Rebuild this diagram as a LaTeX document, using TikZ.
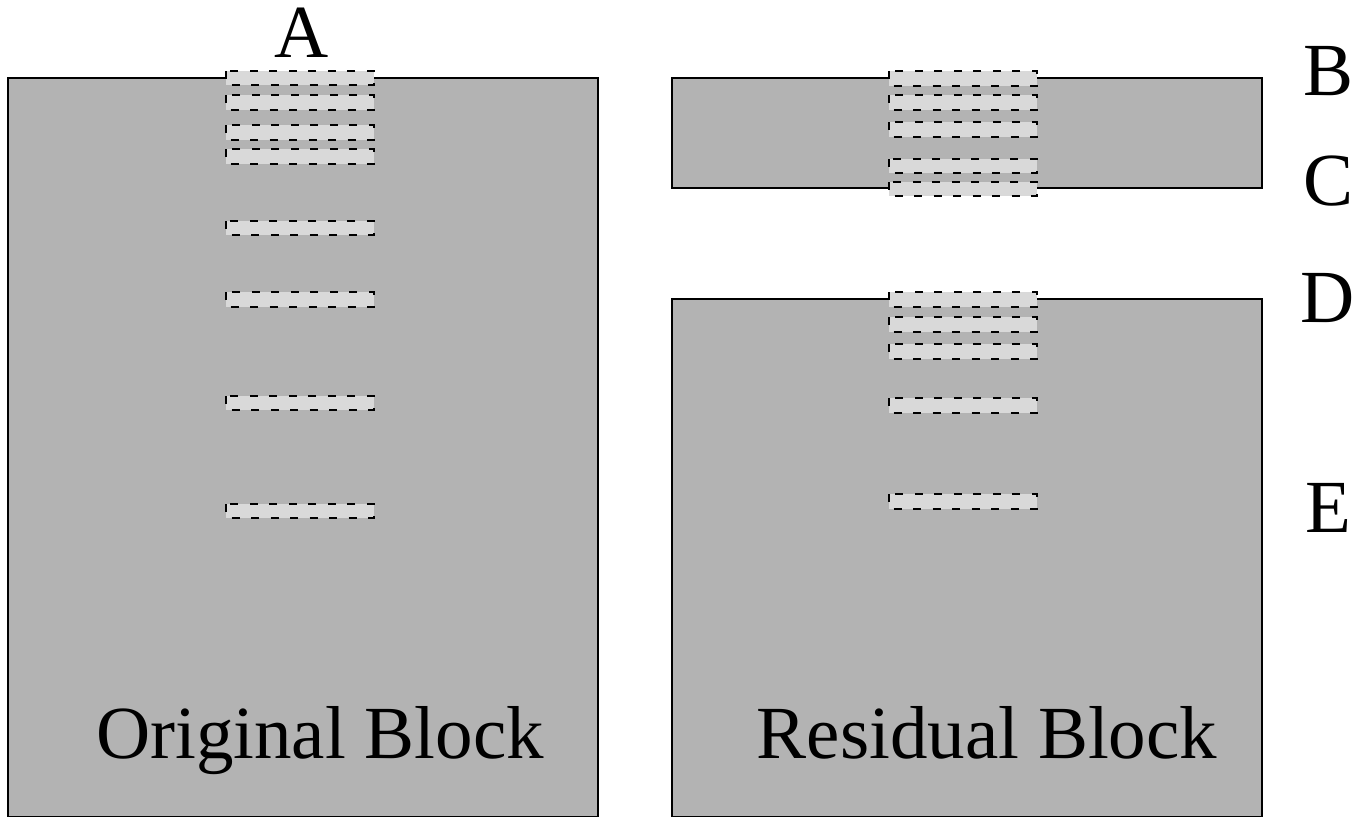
\documentclass[tikz,border=0pt]{standalone}
\usepackage{fontspec}
\setmainfont{Liberation Serif}
\definecolor{blockgray}{RGB}{179,179,179}
\definecolor{slotgray}{RGB}{217,217,217}
\begin{document}
\begin{tikzpicture}[x=1pt,y=-1pt,
  block/.style={fill=blockgray,draw=black,line width=2.5pt},
  slot/.style={fill=slotgray,draw=black,line width=1.2pt,dash pattern=on 8pt off 11.5pt},
  lab/.style={font=\fontsize{75}{90}\selectfont,anchor=base,inner sep=0pt}]
\useasboundingbox (0,0) rectangle (1372,816);
% original block
\path[block] (8,78) rectangle (598,817);
\foreach \a/\b in {71/85,95/110,125/140,149/164,221/235,292/307,396/410,504/518}
  \path[slot] (226,\a) rectangle (374,\b);
% residual top
\path[block] (672,78) rectangle (1262,188);
\foreach \a/\b in {71/86,95/110,122/137,159/173,182/196}
  \path[slot] (889,\a) rectangle (1037,\b);
% residual bottom
\path[block] (672,299) rectangle (1262,817);
\foreach \a/\b in {292/307,317/332,344/359,398/413,494/509}
  \path[slot] (889,\a) rectangle (1037,\b);
% labels
\node[lab] (A) at (302,58) {A};
\node[lab] (B) at (1328,95) {B};
\node[lab] (C) at (1328,205) {C};
\node[lab] (D) at (1328,322) {D};
\node[lab] (E) at (1328,532) {E};
\node[lab] (orig) at (320,758) {Original Block};
\node[lab] (resid) at (987,758) {Residual Block};
\end{tikzpicture}
\end{document}
